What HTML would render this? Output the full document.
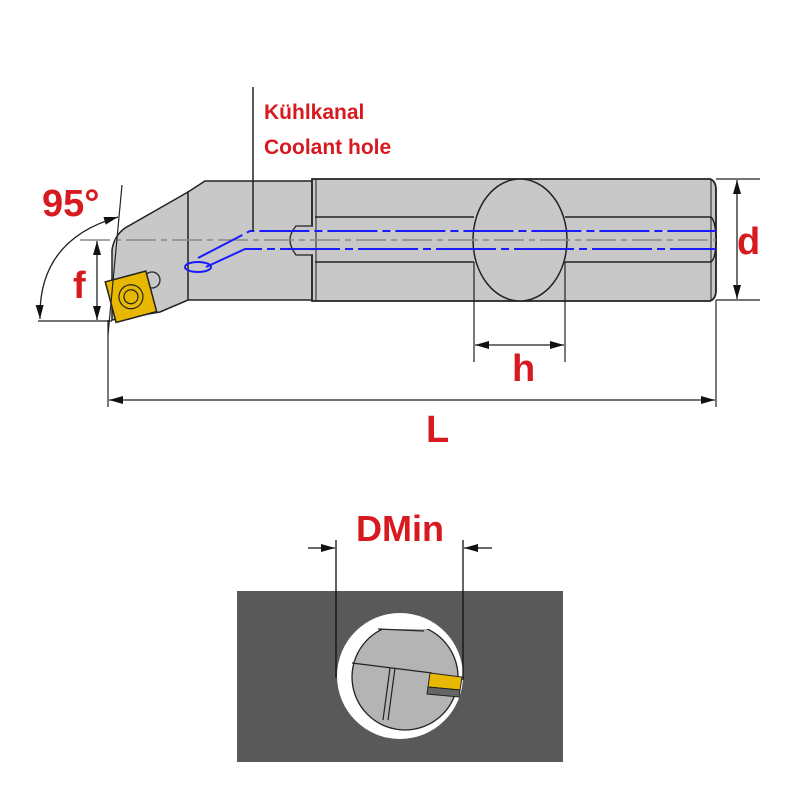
<!DOCTYPE html>
<html><head><meta charset="utf-8"><style>body{margin:0;background:#fff}svg{display:block}</style></head><body>
<svg width="800" height="800" viewBox="0 0 800 800" xmlns="http://www.w3.org/2000/svg" font-family="Liberation Sans, sans-serif">
<defs>
<marker id="a" markerWidth="14" markerHeight="8" refX="14" refY="4" orient="auto" markerUnits="userSpaceOnUse"><path d="M0,0 L14,4 L0,8 Z" fill="#111"/></marker>
<marker id="b" markerWidth="14" markerHeight="8" refX="0" refY="4" orient="auto" markerUnits="userSpaceOnUse"><path d="M14,0 L0,4 L14,8 Z" fill="#111"/></marker>
</defs>
<!-- head -->
<path d="M112,320 L112,250 Q114,236 125,228 L188,192 L205,181 L313,181 L313,300 L188,300 L160,312 Z" fill="#c8c8c8" stroke="#222" stroke-width="1.5"/>
<line x1="188" y1="191" x2="188" y2="300" stroke="#222" stroke-width="1.5"/>
<!-- shank -->
<path d="M312,179 L710,179 Q716,181 716,190 L716,290 Q716,299 710,301 L312,301 Z" fill="#c8c8c8" stroke="#222" stroke-width="1.8"/>
<line x1="316" y1="180" x2="316" y2="300" stroke="#222" stroke-width="1"/>
<line x1="711" y1="180" x2="711" y2="300" stroke="#222" stroke-width="1"/>
<path d="M315,217 L474,217 M565,217 L711,217 Q716,222 716,240 Q716,258 711,262 L565,262 M474,262 L315,262" fill="none" stroke="#222" stroke-width="1.5"/>
<path d="M313,226 L296,226 Q290,233 290,240 Q290,247 296,255 L313,255" fill="#c8c8c8" stroke="#222" stroke-width="1.3"/>
<ellipse cx="520" cy="240" rx="47" ry="61" fill="#c8c8c8" stroke="#222" stroke-width="1.5"/>
<!-- centerline -->
<line x1="80" y1="240" x2="716" y2="240" stroke="#888" stroke-width="1.5" stroke-dasharray="30,5,6,5"/>
<!-- blue coolant -->
<path d="M198,258 L250,231 L716,231" fill="none" stroke="#1a1aff" stroke-width="2" stroke-dasharray="50,5,8,5"/>
<path d="M206,267 L245,249 L716,249" fill="none" stroke="#1a1aff" stroke-width="2" stroke-dasharray="60,5,8,5"/>
<ellipse cx="198" cy="267" rx="13" ry="5" fill="none" stroke="#1a1aff" stroke-width="2"/>
<!-- insert -->
<circle cx="152" cy="280" r="8" fill="#c8c8c8" stroke="#222" stroke-width="1.3"/>
<g transform="rotate(-15 130 297)">
<rect x="110" y="276" width="42" height="42" fill="#e8b800" stroke="#222" stroke-width="1.5"/>
<circle cx="131" cy="297" r="12" fill="none" stroke="#222" stroke-width="1.2"/>
<circle cx="131" cy="297" r="7" fill="none" stroke="#222" stroke-width="1.2"/>
</g>
<!-- Kühlkanal -->
<line x1="253" y1="87" x2="253" y2="231" stroke="#222" stroke-width="1.5"/>
<text x="264" y="119" fill="#d71a20" font-size="21" font-weight="bold">Kühlkanal</text>
<text x="264" y="154" fill="#d71a20" font-size="21" font-weight="bold">Coolant hole</text>
<!-- 95 / f -->
<line x1="122" y1="185" x2="108" y2="335" stroke="#222" stroke-width="1.2"/>
<line x1="38" y1="321" x2="112" y2="321" stroke="#222" stroke-width="1.2"/>
<path d="M40,319 Q38,240 118,217" fill="none" stroke="#222" stroke-width="1.3" marker-start="url(#b)" marker-end="url(#a)"/>
<text x="42" y="216" fill="#d71a20" font-size="38" font-weight="bold">95°</text>
<line x1="97" y1="270" x2="97" y2="241" stroke="#222" stroke-width="1.3" marker-end="url(#a)"/>
<line x1="97" y1="270" x2="97" y2="320" stroke="#222" stroke-width="1.3" marker-end="url(#a)"/>
<text x="73" y="298" fill="#d71a20" font-size="38" font-weight="bold">f</text>
<!-- d -->
<line x1="716" y1="179" x2="760" y2="179" stroke="#222" stroke-width="1.2"/>
<line x1="716" y1="300" x2="760" y2="300" stroke="#222" stroke-width="1.2"/>
<line x1="737" y1="240" x2="737" y2="180" stroke="#222" stroke-width="1.3" marker-end="url(#a)"/>
<line x1="737" y1="240" x2="737" y2="299" stroke="#222" stroke-width="1.3" marker-end="url(#a)"/>
<text x="737" y="254" fill="#d71a20" font-size="38" font-weight="bold">d</text>
<!-- h -->
<line x1="474" y1="262" x2="474" y2="362" stroke="#222" stroke-width="1.2"/>
<line x1="565" y1="262" x2="565" y2="362" stroke="#222" stroke-width="1.2"/>
<line x1="520" y1="345" x2="475" y2="345" stroke="#222" stroke-width="1.3" marker-end="url(#a)"/>
<line x1="520" y1="345" x2="564" y2="345" stroke="#222" stroke-width="1.3" marker-end="url(#a)"/>
<text x="512" y="381" fill="#d71a20" font-size="38" font-weight="bold">h</text>
<!-- L -->
<line x1="108" y1="320" x2="108" y2="407" stroke="#222" stroke-width="1.2"/>
<line x1="716" y1="300" x2="716" y2="407" stroke="#222" stroke-width="1.2"/>
<line x1="410" y1="400" x2="109" y2="400" stroke="#222" stroke-width="1.3" marker-end="url(#a)"/>
<line x1="410" y1="400" x2="715" y2="400" stroke="#222" stroke-width="1.3" marker-end="url(#a)"/>
<text x="426" y="442" fill="#d71a20" font-size="38" font-weight="bold">L</text>
<!-- bottom -->
<rect x="237" y="591" width="326" height="171" fill="#595959"/>
<circle cx="400" cy="676" r="63" fill="#fff"/>
<clipPath id="c"><rect x="340" y="629" width="130" height="110"/></clipPath>
<g clip-path="url(#c)">
<circle cx="405" cy="677" r="53" fill="#b4b4b4" stroke="#222" stroke-width="1.3"/>
</g>
<path d="M378,629 L424,631" stroke="#222" stroke-width="1.3"/>
<path d="M352,663 L432,673" stroke="#222" stroke-width="1.3"/>
<path d="M390,668 L383,720 M395,668 L388,720" stroke="#222" stroke-width="1.2"/>
<polygon points="430,673 462,677 460,690 428,687" fill="#e8b800" stroke="#222" stroke-width="1"/>
<polygon points="428,687 460,690 459,697 427,694" fill="#666" stroke="#222" stroke-width="1"/>
<line x1="336" y1="540" x2="336" y2="678" stroke="#111" stroke-width="1.3"/>
<line x1="463" y1="540" x2="463" y2="680" stroke="#111" stroke-width="1.3"/>
<line x1="308" y1="548" x2="335" y2="548" stroke="#111" stroke-width="1.3" marker-end="url(#a)"/>
<line x1="492" y1="548" x2="464" y2="548" stroke="#111" stroke-width="1.3" marker-end="url(#a)"/>
<text x="400" y="541" fill="#d71a20" font-size="36" font-weight="bold" text-anchor="middle">DMin</text>
</svg>
</body></html>
